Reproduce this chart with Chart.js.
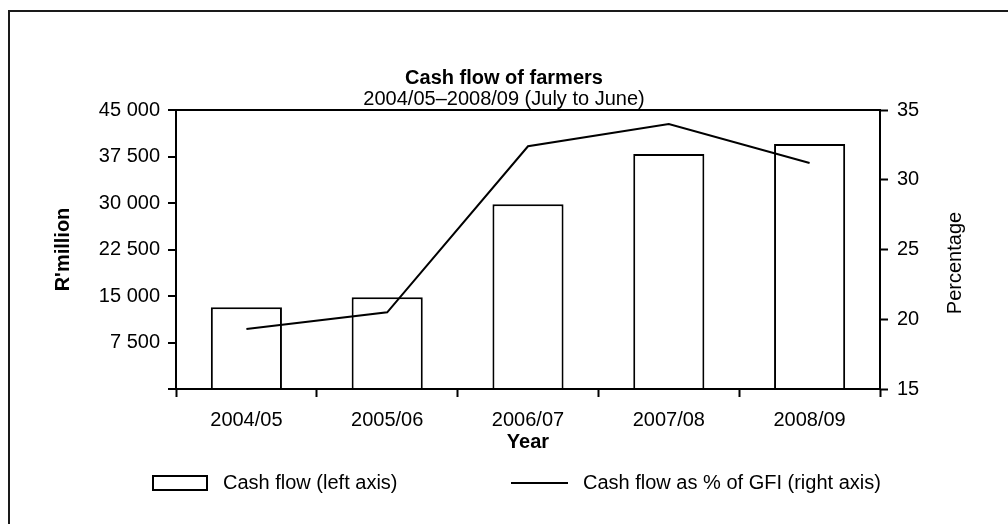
<!DOCTYPE html>
<html>
<head>
<meta charset="utf-8">
<script src="https://cdn.jsdelivr.net/npm/chart.js@4.4.1/dist/chart.umd.min.js"></script>
<style>
  html, body { margin: 0; padding: 0; background: #fff; }
  #wrap { position: relative; width: 1008px; height: 524px; overflow: hidden; }
  #frame { position: absolute; left: 8px; top: 10px; width: 1100px; height: 600px;
           border-left: 2px solid #1a1a1a; border-top: 2px solid #1a1a1a; }
  canvas { position: absolute; left: 0; top: 0; }
</style>
</head>
<body>
<div id="wrap">
  <div id="frame"></div>
  <canvas id="graficoCaja" width="1008" height="524"></canvas>
</div>
<script>
const years = ['2004/05', '2005/06', '2006/07', '2007/08', '2008/09'];
const cashFlow = [13200, 14800, 29800, 37900, 39500];
const pctGFI = [19.3, 20.5, 32.4, 34.0, 31.2];
const leftTicks = [0, 7500, 15000, 22500, 30000, 37500, 45000];
const rightTicks = [15, 20, 25, 30, 35];

Chart.defaults.font.family = '"Liberation Sans", Arial, sans-serif';
Chart.defaults.font.size = 20;
Chart.defaults.color = '#000';

const fmt = v => v === 0 ? '' : String(v).replace(/\B(?=(\d{3})+(?!\d))/g, ' ');

// legend + right axis title + nothing else
const extras = {
  id: 'extras',
  afterDraw(chart) {
    const ctx = chart.ctx;
    const ds = chart.data.datasets;
    ctx.save();
    ctx.fillStyle = '#000';
    ctx.strokeStyle = '#000';
    ctx.lineWidth = 2;
    ctx.font = '20px "Liberation Sans", Arial, sans-serif';
    ctx.textBaseline = 'middle';
    ctx.textAlign = 'left';
    // legend
    ctx.strokeRect(153, 476, 54, 14);
    ctx.fillText(ds[0].label, 223, 483);
    ctx.beginPath();
    ctx.moveTo(511, 483);
    ctx.lineTo(568, 483);
    ctx.stroke();
    ctx.fillText(ds[1].label, 583, 483);
    // right axis title, reads bottom to top
    ctx.translate(955, 263);
    ctx.rotate(-Math.PI / 2);
    ctx.textAlign = 'center';
    ctx.fillText('Percentage', 0, 0);
    ctx.restore();
  }
};

new Chart(document.getElementById('graficoCaja'), {
  type: 'bar',
  data: {
    labels: years,
    datasets: [{
      type: 'bar',
      label: 'Cash flow (left axis)',
      data: cashFlow,
      yAxisID: 'y',
      backgroundColor: '#fff',
      borderColor: '#000',
      borderWidth: 2,
      categoryPercentage: 1,
      barPercentage: 0.505,
      order: 2
    }, {
      type: 'line',
      label: 'Cash flow as % of GFI (right axis)',
      data: pctGFI,
      yAxisID: 'y1',
      borderColor: '#000',
      borderWidth: 2,
      pointRadius: 0,
      tension: 0,
      fill: false,
      order: 1
    }]
  },
  options: {
    responsive: false,
    animation: false,
    devicePixelRatio: 1,
    layout: { padding: { top: 68, bottom: 60, left: 0, right: 0 } },
    plugins: {
      legend: { display: false },
      tooltip: { enabled: false },
      title: {
        display: true,
        text: 'Cash flow of farmers',
        font: { size: 20, weight: 'bold', lineHeight: 1.05 },
        padding: 0
      },
      subtitle: {
        display: true,
        text: '2004/05\u20132008/09 (July to June)',
        font: { size: 20, lineHeight: 1.05 },
        color: '#000',
        padding: 0
      }
    },
    scales: {
      x: {
        offset: true,
        grid: { drawOnChartArea: false, tickLength: 8, tickColor: '#000', tickWidth: 2, offset: true },
        border: { display: true, color: '#000', width: 2 },
        ticks: { padding: 11, maxRotation: 0 },
        title: { display: true, text: 'Year', font: { size: 20, weight: 'bold' }, padding: { top: 4, bottom: 10 } },
        afterFit(scale) { scale.height = 75; }
      },
      y: {
        position: 'left',
        min: 0,
        max: 45000,
        afterBuildTicks(scale) { scale.ticks = leftTicks.map(v => ({ value: v })); },
        grid: {
          drawOnChartArea: true,
          color: c => c.tick && c.tick.value === 45000 ? '#000' : 'rgba(0,0,0,0)',
          lineWidth: 2,
          tickLength: 8,
          tickColor: '#000',
          tickWidth: 2
        },
        border: { display: true, color: '#000', width: 2 },
        ticks: { padding: 8, callback: v => fmt(v) },
        title: { display: true, text: "R'million", font: { size: 20, weight: 'bold' }, padding: { top: 51, bottom: 0 } },
        afterFit(scale) { scale.width = 176; }
      },
      y1: {
        position: 'right',
        min: 15,
        max: 35,
        afterBuildTicks(scale) { scale.ticks = rightTicks.map(v => ({ value: v })); },
        grid: { drawOnChartArea: false, tickLength: 8, tickColor: '#000', tickWidth: 2 },
        border: { display: true, color: '#000', width: 2 },
        ticks: { padding: 9 },
        afterFit(scale) { scale.width = 128; }
      }
    }
  },
  plugins: [extras]
});
</script>
</body>
</html>
